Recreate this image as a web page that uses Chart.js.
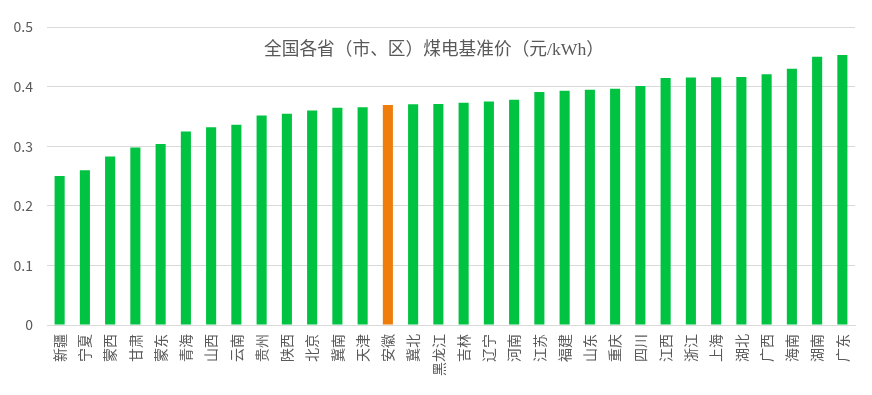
<!DOCTYPE html>
<html>
<head>
<meta charset="utf-8">
<script src="https://cdn.jsdelivr.net/npm/chart.js@4.4.1/dist/chart.umd.min.js"></script>
<style>
html,body{margin:0;padding:0;background:#fff;}
#wrap{width:872px;height:395px;position:relative;}
</style>
</head>
<body>
<div id="wrap"><canvas id="c" width="872" height="395"></canvas></div>
<script>
const chartTitle = '全国各省（市、区）煤电基准价（元/kWh）';
const categories = ['新疆','宁夏','蒙西','甘肃','蒙东','青海','山西','云南','贵州','陕西','北京','冀南','天津','安徽','冀北','黑龙江','吉林','辽宁','河南','江苏','福建','山东','重庆','四川','江西','浙江','上海','湖北','广西','海南','湖南','广东'];
const prices = [0.2500,0.2595,0.2829,0.2978,0.3035,0.3247,0.3320,0.3358,0.3515,0.3545,0.3598,0.3644,0.3655,0.3693,0.3705,0.3710,0.3731,0.3749,0.3779,0.3910,0.3932,0.3949,0.3964,0.4012,0.4143,0.4153,0.4155,0.4161,0.4207,0.4298,0.4500,0.4530];
const highlighted = ['安徽'];
const yTicks = [0, 0.1, 0.2, 0.3, 0.4, 0.5];

const GREEN = '#00C341';
const ORANGE = '#EE7D0B';
const TEXT = '#595959';
const GRID = '#D9D9D9';

const titlePlugin = {
  id: 'innerTitle',
  afterDraw(chart) {
    const ctx = chart.ctx;
    ctx.save();
    ctx.font = '17.7px "Liberation Serif", "Noto Sans CJK SC", sans-serif';
    ctx.fillStyle = TEXT;
    ctx.textAlign = 'center';
    ctx.textBaseline = 'middle';
    ctx.fillText(chartTitle, 434, 50);
    ctx.restore();
  }
};

new Chart(document.getElementById('c'), {
  type: 'bar',
  data: {
    labels: categories,
    datasets: [{
      data: prices,
      backgroundColor: categories.map(c => highlighted.includes(c) ? ORANGE : GREEN),
      barPercentage: 0.4,
      categoryPercentage: 1.0
    }]
  },
  options: {
    responsive: false,
    animation: false,
    layout: { padding: { left: 0, right: 17, top: 27, bottom: 0 } },
    plugins: { legend: { display: false }, tooltip: { enabled: false }, title: { display: false } },
    scales: {
      x: {
        grid: { display: false, drawTicks: false },
        border: { display: true, color: GRID, width: 1 },
        ticks: {
          autoSkip: false, minRotation: 90, maxRotation: 90,
          padding: 9, color: TEXT,
          font: { family: '"Noto Sans CJK SC", sans-serif', size: 14 }
        },
        afterFit(scale) { scale.height = 70; }
      },
      y: {
        min: 0, max: 0.5,
        afterBuildTicks(scale) { scale.ticks = yTicks.map(v => ({ value: v })); },
        grid: { color: GRID, drawTicks: false },
        border: { display: false },
        ticks: {
          padding: 14, color: TEXT,
          font: { family: '"Noto Sans CJK SC", sans-serif', size: 14 },
          callback: v => String(v)
        },
        afterFit(scale) { scale.width = 47; }
      }
    }
  },
  plugins: [titlePlugin]
});
</script>
</body>
</html>
